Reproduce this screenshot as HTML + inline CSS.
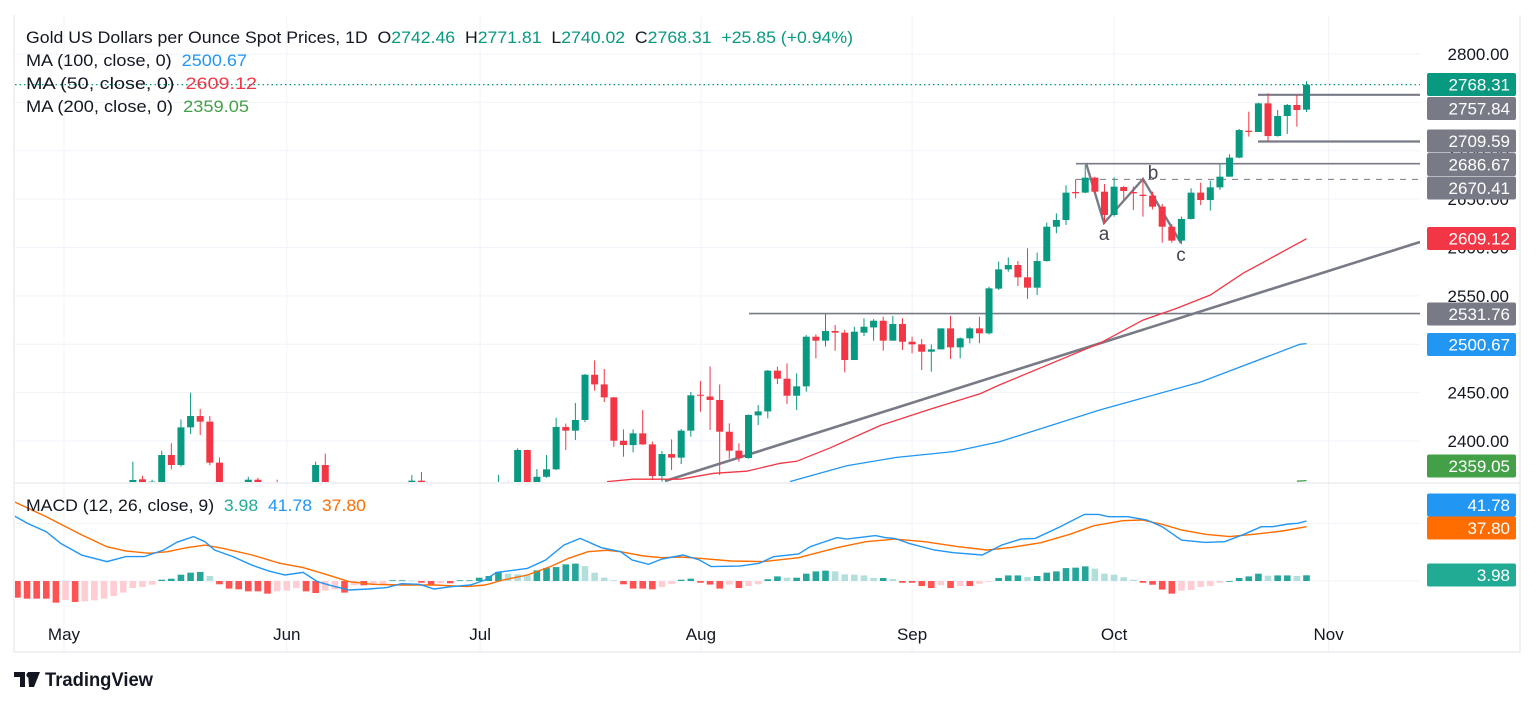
<!DOCTYPE html>
<html><head><meta charset="utf-8"><style>
body{margin:0;background:#fff;}
svg{display:block;font-family:"Liberation Sans",sans-serif;}
svg text{white-space:pre;}
</style></head><body>
<svg id="chart" width="1536" height="703" viewBox="0 0 1536 703" xmlns="http://www.w3.org/2000/svg">
<defs>
<clipPath id="mainClip"><rect x="15" y="15" width="1405" height="467"/></clipPath>
<clipPath id="macdClip"><rect x="15" y="484" width="1405" height="167"/></clipPath>
</defs>
<g id="grid"></g>
<g id="main" clip-path="url(#mainClip)"></g>
<g id="macd" clip-path="url(#macdClip)"></g>
<g id="axis"></g>
<line x1="15" y1="483" x2="1520" y2="483" stroke="#e0e3eb" stroke-width="1"/>
<line x1="14" y1="15" x2="14" y2="652" stroke="#e0e3eb"/>
<line x1="14" y1="652" x2="1520" y2="652" stroke="#e0e3eb"/>
<line x1="1520" y1="15" x2="1520" y2="652" stroke="#e0e3eb"/>
<text x="26" y="43" font-size="17" fill="#131722" textLength="827" lengthAdjust="spacingAndGlyphs">Gold US Dollars per Ounce Spot Prices, 1D  O<tspan fill="#089981">2742.46</tspan>  H<tspan fill="#089981">2771.81</tspan>  L<tspan fill="#089981">2740.02</tspan>  C<tspan fill="#089981">2768.31</tspan>  <tspan fill="#089981">+25.85 (+0.94%)</tspan></text>
<text x="26" y="66" font-size="17" fill="#131722" textLength="221" lengthAdjust="spacingAndGlyphs">MA (100, close, 0)  <tspan fill="#2196f3">2500.67</tspan></text>
<text x="26" y="89" font-size="17" fill="#131722" textLength="231" lengthAdjust="spacingAndGlyphs">MA (50, close, 0)  <tspan fill="#f23645">2609.12</tspan></text>
<text x="26" y="112" font-size="17" fill="#131722" textLength="223" lengthAdjust="spacingAndGlyphs">MA (200, close, 0)  <tspan fill="#43a047">2359.05</tspan></text>
<text x="26" y="511" font-size="17" fill="#131722" textLength="340" lengthAdjust="spacingAndGlyphs">MACD (12, 26, close, 9)  <tspan fill="#22ab94">3.98</tspan>  <tspan fill="#2196f3">41.78</tspan>  <tspan fill="#ff6d00">37.80</tspan></text>
<g>
<path d="M14 672 h11 v15 h-5 v-10 h-6 z M28 672 h12 l-6 15 h-5 z" fill="#131722"/>
<circle cx="29" cy="675" r="2.6" fill="#131722"/>
<text x="45" y="686" font-size="19" fill="#131722" font-weight="bold" textLength="108" lengthAdjust="spacingAndGlyphs">TradingView</text>
</g>
</svg>
<script>
// ---- Data ----
const opens = [2330,2335,2322,2330,2315,2325,2320,2310,2322,2318,2330,2338,2330,2352,2360.4,2355,2350,2385.5,2375.2,2414.1,2425.8,2420,2377.6,2350,2338,2345,2360,2350,2340,2335,2330,2340,2345,2375.2,2350,2330,2335,2328,2332,2340,2335,2325,2335,2359,2340,2325,2330,2322,2330,2340,2335,2338,2355,2345,2390.7,2355,2363,2370.7,2414.5,2410.7,2421.7,2468.5,2458.5,2445.1,2400.3,2395.8,2407.9,2396.5,2363.8,2386.5,2382.8,2410.7,2447.8,2446,2442.4,2409.6,2390,2382.4,2426.5,2430.6,2472.7,2464.4,2446.8,2456.5,2507.8,2503.7,2513.7,2512,2483.7,2512,2517.4,2524.3,2503.7,2520.9,2502.6,2499.9,2492.3,2494.7,2516.4,2496.8,2506.1,2516.4,2511.3,2557.5,2577.4,2581.9,2569.2,2558.5,2586,2621.5,2628.4,2657.4,2656.7,2672.2,2657.7,2633.6,2662.5,2657.4,2654.6,2653.6,2642.2,2621.5,2607.1,2629.5,2656.7,2649.1,2662.2,2673.2,2692.9,2720.7,2719.4,2749,2715.2,2735.9,2747.3,2742.46];
const highs = [2345,2342,2335,2340,2330,2338,2332,2328,2336,2334,2345,2348,2346,2378.6,2364,2360,2390,2397.6,2422.4,2450,2433,2425.8,2383,2356,2352,2363,2362,2356,2360,2348,2345,2352,2378.6,2387,2355,2345,2348,2340,2346,2352,2345,2340,2364.8,2368,2348,2338,2342,2336,2345,2350,2348,2365,2358,2392.4,2391,2371,2385.5,2424,2418,2439.3,2469.2,2483.3,2474.4,2445.5,2412,2412,2432,2399.3,2389.6,2401.7,2412.4,2450.6,2462,2477.1,2458.5,2418.2,2397.6,2427.5,2437.2,2473.4,2476.8,2480.2,2469.9,2509.5,2510.2,2531.2,2519.9,2514.7,2518.1,2526.8,2526,2528.5,2529.2,2526.8,2507.8,2505.4,2499.9,2516.4,2529.5,2507.1,2517.5,2528.5,2559.5,2585.4,2589.8,2586,2599.1,2594.7,2625.7,2635.3,2664.3,2670.5,2685,2673.2,2665.6,2672.5,2663.6,2662.9,2671.5,2657.7,2645,2624,2631.9,2661.2,2667,2669.1,2686,2696.3,2722.5,2740.4,2749.7,2759.4,2742.1,2748.3,2757.6,2771.81];
const lows = [2320,2318,2315,2310,2300,2318,2305,2302,2315,2310,2322,2325,2325,2340,2345,2340,2340,2370.7,2373.5,2407.3,2406.2,2375,2340,2330,2325,2340,2340,2330,2330,2320,2322,2330,2340,2345,2325,2320,2322,2315,2325,2330,2320,2318,2330,2335,2320,2310,2320,2315,2322,2328,2325,2330,2335,2340,2340,2350,2362,2370,2390.7,2401,2419.6,2452,2440.3,2394,2383.8,2388.3,2396,2359.6,2358,2370,2376.2,2404.5,2430.3,2411.4,2364.8,2381.7,2378.6,2381.7,2416.5,2423.4,2458.9,2438.2,2432,2451,2485.4,2497.5,2493.3,2471,2483.7,2508.5,2503.7,2493.3,2503.7,2494,2490.6,2473.4,2471.6,2494.7,2484.7,2485.4,2501,2501,2510,2556.1,2575,2560.2,2546.8,2550.9,2585.4,2614.7,2623.3,2650.8,2656,2656,2625,2631.9,2649.1,2638.8,2631.9,2639.4,2605,2605,2603.3,2629,2643.9,2638.1,2659.5,2673.2,2692.2,2714.6,2719.4,2709.4,2714.6,2717.3,2724.9,2740.02];
const closes = [2335,2322,2330,2315,2325,2320,2310,2322,2318,2330,2338,2330,2342,2359.7,2357,2358,2385.5,2375.2,2414.1,2425.8,2420,2377.6,2350,2338,2345,2360,2357,2335,2335,2330,2340,2345,2375.2,2350,2330,2335,2328,2332,2340,2335,2325,2335,2359,2340,2325,2330,2322,2330,2340,2335,2338,2355,2345,2390.7,2355,2363,2370.7,2414.5,2410.7,2421.7,2468.5,2458.5,2445.1,2400.3,2395.8,2407.9,2396.5,2363.8,2386.5,2382.8,2410.7,2447.2,2446.8,2442.4,2409.6,2390,2382.4,2426.9,2430.6,2472.7,2464.4,2446.8,2456.5,2507.8,2503.7,2513.7,2512,2483.7,2513,2518.1,2524.3,2503.7,2520.9,2502.6,2499.9,2492.3,2494.7,2516.4,2496.8,2506.1,2516.4,2511.3,2557.8,2577.4,2581.9,2569.2,2558.5,2586,2621.5,2628.4,2656.7,2656,2672.2,2657.7,2633.6,2662.9,2658.4,2656,2653.3,2642.2,2621.5,2607.1,2629.5,2656.7,2649.1,2662.2,2673.2,2692.9,2721.4,2719.4,2749,2715.2,2735.9,2747.3,2742.1,2768.31];

// moving averages (bar index, value)
const ma50Bars = [62.3,65,69.9,73.4,76.8,80.3,82,85.5,90.7,95.9,101.1,103.1,113.5,118,121.5,125,128.4,131.9,135];
const ma50Vals = [2358,2360.5,2360.5,2366.6,2368.8,2377,2379,2393,2416,2433,2449,2458,2501,2525,2537.1,2550.9,2573.3,2592.2,2609.12];
const ma100Bars = [81.3,83.7,87.2,92.4,98.3,103.1,113.5,124,134.3,135];
const ma100Vals = [2358,2364.8,2374.5,2383,2389,2399.3,2432,2461,2500,2500.67];
const ma200Bars = [134,135];
const ma200Vals = [2358.4,2359.05];

// MACD
const macdBars = [0.64,2.1,4,5.5,7.7,10.3,12.3,14.2,16.2,17.6,19.3,20.5,21.5,23.4,25.4,27.1,28.8,30.7,32.2,33.6,35.5,37.5,39.4,40.9,42.8,44.3,46.2,48.1,49.6,50.8,54,55.9,57.8,59.5,61.7,63.7,64.9,66.6,68,70.2,71.9,73.1,76.1,78.1,79.6,82.2,83.4,86.2,87.2,90.2,91.2,92.2,93.7,96.3,98.3,101.3,103.3,105.3,106.8,109.4,111.9,113.4,114.4,116.4,118.4,120,122,124.5,126.5,128.5,130.3,131.5,133.1,134.1,135];
const macdVals = [45.5,40,34.3,26.2,18,13.5,17,17,21.6,27,30.9,27.4,21.6,17,11,7,4.2,6,-0.5,-3.2,-6.3,-5.6,-4.6,-1.9,-2.3,-5.6,-3.9,-2.8,0.7,6,8.8,14.6,25,29.7,23.2,20.4,14.6,11.6,15.3,18.1,14.6,10,10.4,12.3,16.9,18.8,23.9,30.2,29.2,31.6,30.2,29.7,26.2,21.6,19.7,18.1,25,29.2,29.7,37.8,46.4,46.4,44.8,44.8,42.5,37.8,28.5,26.9,27.4,32.5,37.8,37.8,39.7,40.2,41.78];
const signalBars = [0.64,4,7.7,10.3,12.3,14.7,16.6,18.6,20.5,22.4,25.4,28.3,30.7,33.1,35.5,37.9,40.9,44.3,47.7,49.6,51.5,54,56.4,58.3,60.3,62.2,63.7,66.1,68,69.9,71.9,75.2,78.6,82.2,86.2,89.2,92.2,95.3,98.8,101.8,104.3,107.4,110.4,112.9,115.9,117.9,120,122,124.5,127,129.5,132.5,135];
const signalVals = [55.2,44.8,32,23.9,20.9,19.3,20.4,23.2,25,22.7,18.1,12.3,9.3,4.6,-0.5,-2.3,-2.8,-2.8,-3.9,-2.8,0.7,4.2,10,15.8,20.4,21.4,20.4,17.4,16.2,16.7,15.8,13.9,13.5,16.2,23.2,27.4,29.2,27.4,23.9,21.6,23.4,26.7,32.5,38.5,42,42.5,39.5,35.5,32.5,30.9,32.5,34.8,37.8];
const histVals = [-11,-11.6,-12.3,-12.3,-12.3,-15.1,-13.2,-14.6,-14.2,-13.5,-12.3,-10.5,-8.1,-4.9,-4.2,-2.6,0.9,1.6,4.4,5.8,6.3,3.5,-2.3,-5.3,-5.8,-7.2,-7.2,-8.8,-7.2,-6.7,-4.9,-7.2,-8.4,-6.7,-5.8,-8.1,-3,-3,-2.5,-2,0.5,0.5,0.3,-1.2,-2.5,-1.6,-1.6,0.5,0.5,2.3,3.5,6.3,5.1,4.6,4.4,7.4,9,9.7,11.6,12.1,10.4,5.8,2.3,0.5,-2.3,-5.3,-5.3,-5.8,-4.2,-2,0.9,1.6,-1.2,-2.5,-5.3,-2.5,-4.9,-3.5,-2.3,1.2,3.2,2.3,2.3,5.1,6.7,7.2,6.7,4.6,4.4,3.9,2.1,2.1,1.4,-1.2,-1.2,-3.5,-4.9,-3,-4.9,-3.5,-3.5,-1.9,-0.5,2.1,3.9,3.9,2.8,3.5,5.8,6.7,9,9.3,10.2,8.6,5.1,4.4,2.6,0.9,-1.2,-2.6,-6,-8.8,-6.7,-6.3,-4.2,-3.5,-1.2,0,2.1,3.2,5.1,3.7,3.9,3.9,3.5,3.98];

// axis ticks
const priceTicks = [2400,2450,2500,2550,2600,2650,2700,2750,2800];
const priceTickLabels = ["2400.00","2450.00","2500.00","2550.00","2600.00","2650.00","2700.00","2750.00","2800.00"];
const monthBars = [5.84,29,49.1,72.05,94,115,137.3];
const monthLabels = ["May","Jun","Jul","Aug","Sep","Oct","Nov"];

// ---- Scales ----
const NS="http://www.w3.org/2000/svg";
function xb(i){return 7.8+9.62*i;}
function yp(p){return 54+(2800-p)*0.9675;}
function ym(v){return 581-v*1.436;}
function mk(tag,attrs,parent){const e=document.createElementNS(NS,tag);for(const k in attrs)e.setAttribute(k,attrs[k]);parent.appendChild(e);return e;}
const grid=document.getElementById('grid'),main=document.getElementById('main'),macd=document.getElementById('macd'),axis=document.getElementById('axis');

// grid
priceTicks.forEach((p,k)=>{
  const l=mk('line',{x1:15,x2:1420,y1:yp(p),y2:yp(p),stroke:'#f0f3fa','stroke-width':1},grid);
  
  
  const t=mk('text',{x:1509,y:yp(p)+6,'font-size':17,fill:'#131722','text-anchor':'end'},axis);
  t.textContent=priceTickLabels[k];
  
  
});
[0,40].forEach(v=>{
  const l=mk('line',{x1:15,x2:1420,y1:ym(v),y2:ym(v),stroke:'#f0f3fa'},grid);
  
  
});
monthBars.forEach((b,k)=>{
  const l=mk('line',{x1:xb(b),x2:xb(b),y1:15,y2:652,stroke:'#f0f3fa'},grid);
  
  
  const t=mk('text',{x:xb(b),y:640,'font-size':17,fill:'#131722','text-anchor':'middle'},grid);
  t.textContent=monthLabels[k];
  
  
});

// last price dotted line
const dl=mk('line',{x1:15,x2:1420,y1:yp(closes[closes.length-1]),y2:yp(closes[closes.length-1]),stroke:'#089981','stroke-dasharray':'1.5 3','stroke-width':1.2},main);



// drawings
function hline(x1,price,dash,name,w){
  const l=mk('line',{x1:x1,x2:1420,y1:yp(price),y2:yp(price),stroke:'#787b86','stroke-width':w||2},main);
  if(dash)l.setAttribute('stroke-dasharray','6 6');
  
  
}
hline(749,2531.76,false,'resistance-line-2531',1.6);
hline(1076,2686.67,false,'resistance-line-2686',1.6);
hline(1076,2670.41,true,'b-level-line-2670',1);
hline(1258,2757.84,false,'range-top-line',2.2);
hline(1258,2709.59,false,'range-bottom-line',2.2);
const tl=mk('line',{x1:665,y1:481,x2:1420,y2:242,stroke:'#787b86','stroke-width':2.6},main);


const abc=mk('polyline',{points:'1086,163 1104,223 1143,179 1181,243',fill:'none',stroke:'#787b86','stroke-width':2.4},main);


[['a',1104,240],['b',1153,179],['c',1181,261]].forEach(d=>{
  const t=mk('text',{x:d[1],y:d[2],'font-size':19,fill:'#434651','text-anchor':'middle'},main);
  t.textContent=d[0];
  
  
});

// MAs
function maLine(bars,vals,color,name,w){
  const pts=bars.map((b,k)=>xb(b).toFixed(1)+','+yp(vals[k]).toFixed(1)).join(' ');
  const l=mk('polyline',{points:pts,fill:'none',stroke:color,'stroke-width':w},main);
  
  
}
maLine(ma50Bars,ma50Vals,'#f23645','ma50-line',1.3);
maLine(ma100Bars,ma100Vals,'#2196f3','ma100-line',1.3);
maLine(ma200Bars,ma200Vals,'#43a047','ma200-line',1.3);

// candles
opens.forEach((o,i)=>{
  const c=closes[i],up=c>=o,col=up?'#089981':'#f23645',x=xb(i);
  const g=mk('g',{},main);
  
  
  mk('line',{x1:x,x2:x,y1:yp(highs[i]),y2:yp(lows[i]),stroke:col,'stroke-width':1},g);
  const top=yp(Math.max(o,c)),h=Math.max(1,Math.abs(yp(o)-yp(c)));
  mk('rect',{x:x-3.5,y:top,width:7,height:h,fill:col},g);
});

// MACD histogram
histVals.forEach((v,i)=>{
  const prev=i>0?histVals[i-1]:v;
  let col;
  if(v>=0)col=v>=prev?'#26a69a':'#b2dfdb'; else col=v<=prev?'#ff5252':'#ffcdd2';
  const y0=ym(0),y1=ym(v);
  const r=mk('rect',{x:xb(i)-3.3,y:Math.min(y0,y1),width:6.6,height:Math.max(0.8,Math.abs(y1-y0)),fill:col},macd);
  
  
});
function mline(bars,vals,color,name){
  const pts=bars.map((b,k)=>xb(b).toFixed(1)+','+ym(vals[k]).toFixed(1)).join(' ');
  const l=mk('polyline',{points:pts,fill:'none',stroke:color,'stroke-width':1.4},macd);
  
  
}
mline(signalBars,signalVals,'#ff6d00','signal-line');
mline(macdBars,macdVals,'#2196f3','macd-line');

// axis labels
function lab(cy,txt,bg,name){
  const g=mk('g',{},axis);
  
  
  mk('rect',{x:1427,y:cy-11.5,width:89,height:23,rx:2,fill:bg},g);
  const t=mk('text',{x:1510,y:cy+6,'font-size':17,fill:'#fff','text-anchor':'end'},g);
  t.textContent=txt;
}
lab(84.5,'2768.31','#089981','last-price-label');
lab(108.5,'2757.84','#787b86','range-top-label');
lab(141,'2709.59','#787b86','range-bottom-label');
lab(164.5,'2686.67','#787b86','resistance-2686-label');
lab(188,'2670.41','#787b86','b-level-label');
lab(238.5,'2609.12','#f23645','ma50-label');
lab(314,'2531.76','#787b86','resistance-2531-label');
lab(344.5,'2500.67','#2196f3','ma100-label');
lab(466,'2359.05','#43a047','ma200-label');
lab(505,'41.78','#2196f3','macd-value-label');
lab(528,'37.80','#ff6d00','signal-value-label');
lab(575,'3.98','#22ab94','histogram-value-label');
</script>
</body></html>
